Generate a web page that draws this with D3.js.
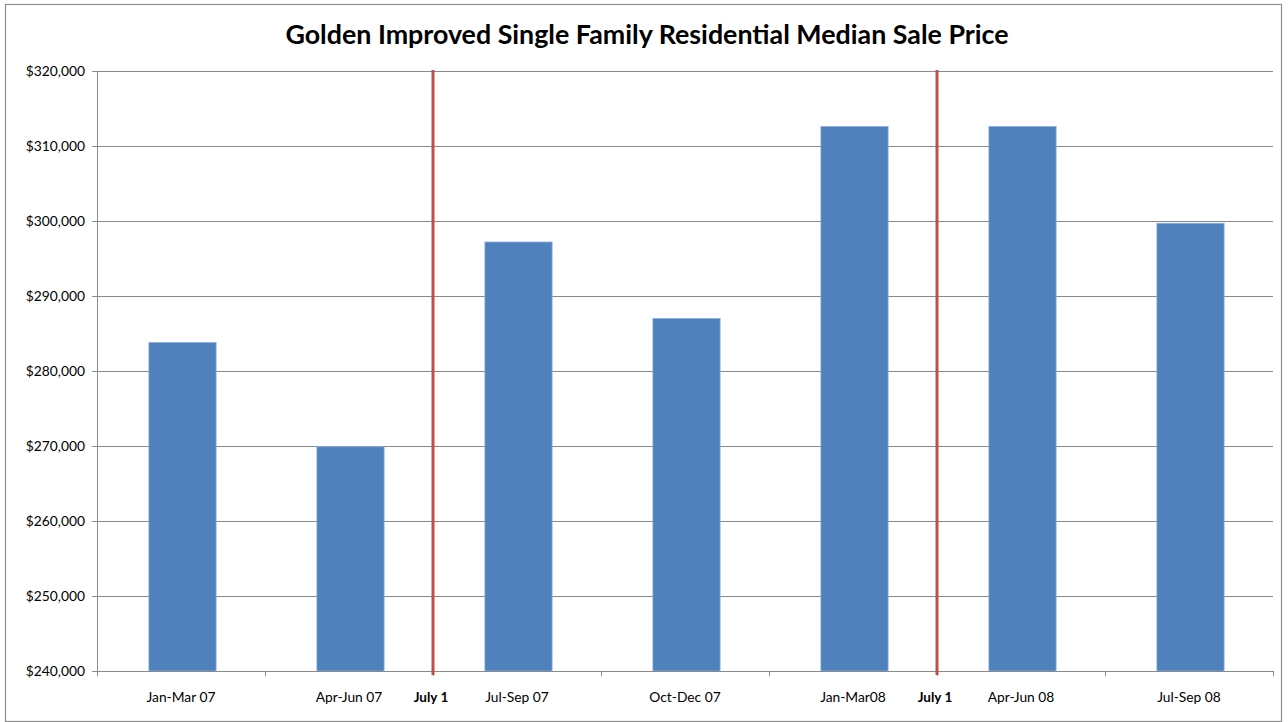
<!DOCTYPE html>
<html>
<head>
<meta charset="utf-8">
<script src="https://cdn.jsdelivr.net/npm/d3@7"></script>
<style>
  body { margin: 0; background: #fff; }
  text { font-family: Lato, "Open Sans", sans-serif; }
</style>
</head>
<body>
<div id="chart"></div>
<script>
var categories = ["Jan-Mar 07", "Apr-Jun 07", "Jul-Sep 07", "Oct-Dec 07", "Jan-Mar08", "Apr-Jun 08", "Jul-Sep 08"];
var prices = [283800, 269900, 297200, 287000, 312600, 312600, 299700];
var yTicks = [240000, 250000, 260000, 270000, 280000, 290000, 300000, 310000, 320000];
// red marker lines drawn after these categories
var markerAfter = ["Apr-Jun 07", "Jan-Mar08"];
var markerLabel = "July 1";
var title = "Golden Improved Single Family Residential Median Sale Price";

var W = 1288, H = 722;
var margin = {top: 71, right: 15, bottom: 51, left: 97};
var width = W - margin.left - margin.right;
var height = H - margin.top - margin.bottom;

var svg = d3.select("#chart")
    .append("svg")
    .attr("width", W)
    .attr("height", H);

// outer frame
svg.append("rect")
    .attr("x", 5.5).attr("y", 4.5)
    .attr("width", 1276).attr("height", 717)
    .style("fill", "none")
    .style("stroke", "#8c8c8c")
    .style("stroke-width", "1.2px");

svg.append("text")
    .attr("x", 647)
    .attr("y", 44)
    .attr("text-anchor", "middle")
    .style("font-size", "26.8px")
    .style("font-weight", "bold")
    .style("fill", "#000")
    .text(title);

var g = svg.append("g")
    .attr("transform", "translate(" + margin.left + "," + margin.top + ")");

var x = d3.scaleBand()
    .domain(categories)
    .range([0, width])
    .padding(0);

var y = d3.scaleLinear()
    .domain([240000, 320000])
    .range([height, 0]);

// gridlines
g.selectAll(".grid")
    .data(yTicks.slice(1))
    .enter().append("line")
    .attr("x1", 0).attr("x2", width)
    .attr("y1", function(d){return Math.round(y(d)) + 0.5;})
    .attr("y2", function(d){return Math.round(y(d)) + 0.5;})
    .style("stroke", "#8a8a8a")
    .style("stroke-width", "1px");

var yAxis = g.append("g")
    .call(d3.axisLeft(y)
        .tickValues(yTicks)
        .tickSize(5)
        .tickPadding(7)
        .tickFormat(function(d){return "$" + d3.format(",")(d);}));
yAxis.select(".domain").remove();
yAxis.selectAll(".tick line").style("stroke", "#8a8a8a");
yAxis.selectAll("text").style("font-size", "13.8px").style("fill", "#000");
yAxis.append("line")
    .attr("x1", 0.5).attr("x2", 0.5)
    .attr("y1", 0).attr("y2", height)
    .style("stroke", "#8a8a8a");

var barW = x.bandwidth() * 0.4;

g.selectAll(".bar")
    .data(prices)
    .enter().append("rect")
    .attr("x", function(d, i){return x(categories[i]) + x.bandwidth() / 2 - barW / 2 + 1.5;})
    .attr("y", function(d){return y(d);})
    .attr("width", barW)
    .attr("height", function(d){return height - y(d);})
    .style("fill", "#4f81bd")
    .style("stroke", "#8eaedc")
    .style("stroke-width", "0.8px");

// x axis line and boundary ticks
var boundaries = categories.map(function(c){return x(c);}).concat([width]);
g.append("line")
    .attr("x1", 0).attr("x2", width)
    .attr("y1", height + 0.5).attr("y2", height + 0.5)
    .style("stroke", "#8a8a8a");
g.selectAll(".xtick")
    .data(boundaries)
    .enter().append("line")
    .attr("x1", function(d){return Math.round(d) + 0.5;})
    .attr("x2", function(d){return Math.round(d) + 0.5;})
    .attr("y1", height).attr("y2", height + 5)
    .style("stroke", "#8a8a8a");

g.selectAll(".xlabel")
    .data(categories)
    .enter().append("text")
    .attr("x", function(d){return x(d) + x.bandwidth() / 2;})
    .attr("y", height + 31)
    .attr("text-anchor", "middle")
    .style("font-size", "13.8px")
    .style("fill", "#000")
    .text(function(d){return d;});

// July 1 markers
var mx = markerAfter.map(function(c){return x(c) + x.bandwidth();});
g.selectAll(".marker")
    .data(mx)
    .enter().append("line")
    .attr("x1", function(d){return d;})
    .attr("x2", function(d){return d;})
    .attr("y1", -1).attr("y2", height + 4)
    .style("stroke", "#c0504d")
    .style("stroke-width", "3px");
g.selectAll(".markerLabel")
    .data(mx)
    .enter().append("text")
    .attr("x", function(d){return d - 2;})
    .attr("y", height + 31)
    .attr("text-anchor", "middle")
    .style("font-size", "13.5px")
    .style("font-weight", "bold")
    .style("fill", "#000")
    .text(markerLabel);
</script>
</body>
</html>
